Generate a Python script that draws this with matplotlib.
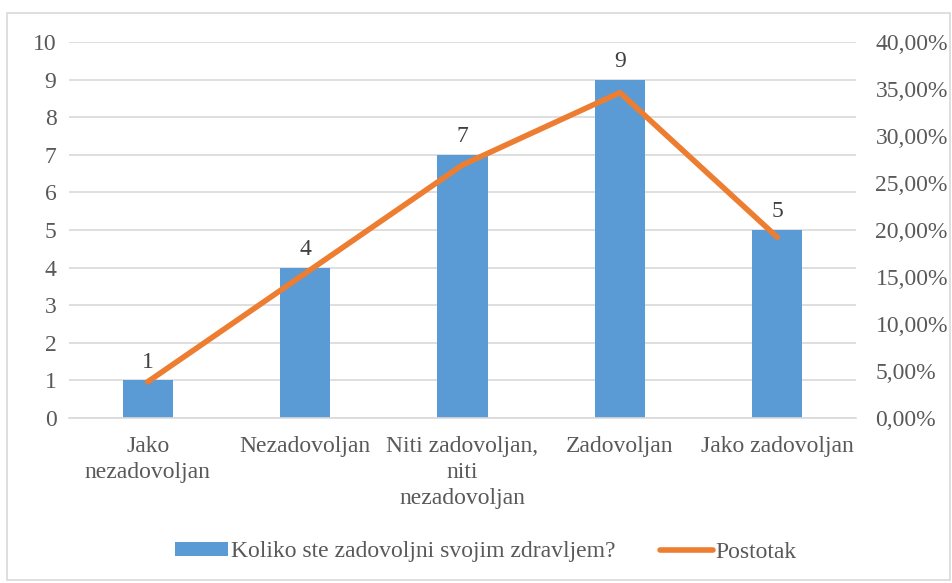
import matplotlib
matplotlib.use("Agg")
import matplotlib.pyplot as plt
import matplotlib.ticker as mticker
from matplotlib.patches import Rectangle

categories = ["Jako\nnezadovoljan", "Nezadovoljan", "Niti zadovoljan,\nniti\nnezadovoljan",
              "Zadovoljan", "Jako zadovoljan"]
counts = [1, 4, 7, 9, 5]
percent = [3.85, 15.38, 26.92, 34.62, 19.23]
bar_label = "Koliko ste zadovoljni svojim zdravljem?"
line_label = "Postotak"

BLUE = "#5B9BD5"
ORANGE = "#ED7D31"
TEXT = "#595959"
GRID = "#D9D9D9"
FS = 17

plt.rcParams["font.family"] = ["Liberation Serif", "DejaVu Serif"]

fig = plt.figure(figsize=(9.53, 5.83), dpi=100)
fig.patches.append(Rectangle((7 / 953, 3 / 583), 943 / 953, 567 / 583, transform=fig.transFigure,
                             fill=False, edgecolor=GRID, linewidth=1.2))

ax = fig.add_axes([69 / 953, 1 - 418 / 583, 787 / 953, 376 / 583])
x = range(len(categories))
ax.bar(x, counts, width=0.32, color=BLUE, zorder=2, label=bar_label)
for i, v in enumerate(counts):
    ax.text(i, v + 0.2, str(v), ha="center", va="bottom", fontsize=FS, color="#404040")
ax.set_ylim(0, 10)
ax.set_xlim(-0.5, len(categories) - 0.5)
ax.set_yticks(range(0, 11))
ax.set_xticks(list(x))
ax.set_xticklabels(categories, fontsize=FS, color=TEXT, linespacing=1.3)
ax.tick_params(axis="y", labelsize=FS, labelcolor=TEXT, length=0, pad=9)
ax.tick_params(axis="x", length=0, pad=13)
ax.grid(axis="y", color=GRID, linewidth=1.2, zorder=0)
for s in ["top", "right", "left"]:
    ax.spines[s].set_visible(False)
ax.spines["bottom"].set_color(GRID)
ax.spines["bottom"].set_linewidth(1.2)

ax2 = ax.twinx()
ax2.plot(list(x), percent, color=ORANGE, linewidth=4, solid_capstyle="round", zorder=3, label=line_label)
ax2.set_ylim(0, 40)
ax2.set_yticks(range(0, 41, 5))
ax2.yaxis.set_major_formatter(mticker.FuncFormatter(lambda v, p: f"{v:.2f}%".replace(".", ",")))
ax2.tick_params(axis="y", labelsize=FS, labelcolor=TEXT, length=0, pad=14)
for s in ["top", "right", "left", "bottom"]:
    ax2.spines[s].set_visible(False)

h1, l1 = ax.get_legend_handles_labels()
h2, l2 = ax2.get_legend_handles_labels()
fig.legend(h1 + h2, l1 + l2, loc="center", bbox_to_anchor=(486 / 953, 1 - 552 / 583), ncol=2,
           frameon=False, fontsize=FS, labelcolor=TEXT, handlelength=2.25, handleheight=0.5,
           handletextpad=0.1, columnspacing=1.9, borderpad=0)

fig.savefig("out.png", dpi=100)
